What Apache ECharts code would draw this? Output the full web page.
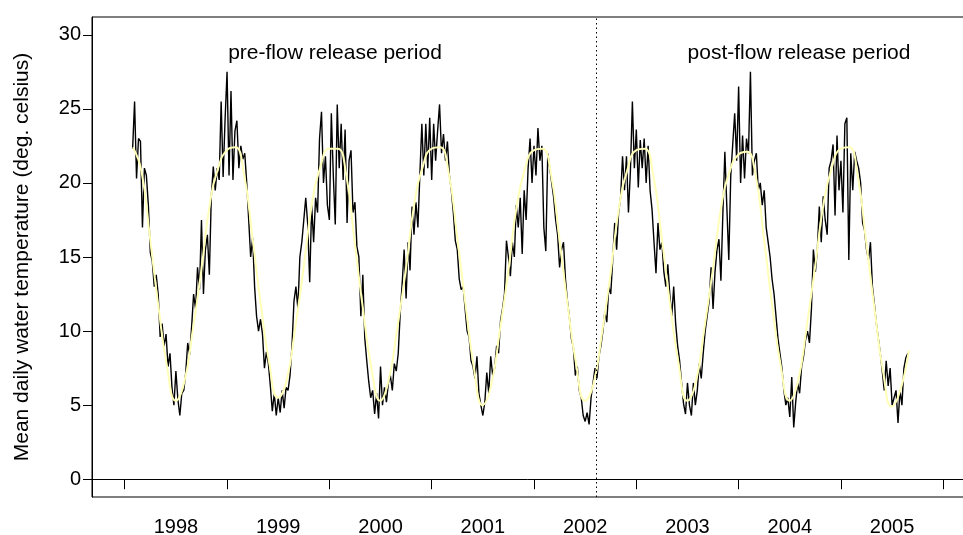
<!DOCTYPE html>
<html>
<head>
<meta charset="utf-8">
<script src="https://cdn.jsdelivr.net/npm/echarts@6/dist/echarts.min.js"></script>
<style>
  html, body { margin: 0; padding: 0; background: #fff; overflow: hidden; }
  #chart { width: 963px; height: 535px; }
</style>
</head>
<body>
<div id="chart"></div>
<script>
// 每周平均水温（黑线），按年份分组，x = 年 + 周/52
const t1998 = [22.3, 25.5, 20.3, 23.0, 22.8, 17.0, 21.0, 20.5, 18.5, 15.3, 14.7, 13.0, 13.8, 12.5, 9.6, 10.5, 9.0, 9.8, 7.6, 8.5, 6.2, 5.0, 7.3, 5.4, 4.3, 5.8, 6.0, 7.2, 9.2, 8.4, 10.3, 12.5, 11.5, 14.3, 12.8, 17.5, 12.5, 15.5, 16.5, 13.8, 19.1, 21.1, 19.5, 21.0, 20.2, 25.5, 20.4, 24.3];
const t1999 = [27.5, 20.5, 26.2, 20.2, 23.5, 24.2, 21.0, 22.5, 21.6, 22.0, 20.0, 17.5, 15.0, 16.3, 13.0, 11.0, 10.0, 10.8, 9.8, 7.5, 8.6, 7.8, 6.3, 4.6, 5.8, 4.3, 5.5, 4.5, 6.0, 4.8, 6.2, 6.0, 7.0, 9.0, 12.0, 13.0, 11.5, 15.0, 16.0, 17.5, 19.0, 17.2, 13.3, 18.5, 16.0, 19.0, 18.0, 23.0, 24.8, 20.0, 21.8, 18.5];
const t2000 = [17.5, 24.7, 20.5, 17.2, 25.3, 21.0, 24.0, 20.2, 23.6, 17.3, 21.5, 22.2, 18.0, 18.7, 15.7, 15.0, 11.0, 13.8, 9.5, 8.0, 6.6, 5.5, 6.0, 4.4, 5.8, 4.1, 7.6, 5.0, 6.2, 5.2, 6.5, 7.0, 6.0, 7.8, 7.3, 8.5, 11.2, 13.2, 15.5, 12.2, 16.0, 14.1, 18.4, 16.5, 18.7, 17.0, 20.6, 24.0, 20.5, 24.0, 21.0, 24.4];
const t2001 = [20.2, 24.0, 21.5, 23.5, 25.3, 22.0, 23.3, 21.5, 22.8, 20.5, 19.5, 18.0, 16.1, 15.5, 13.5, 12.8, 13.0, 11.5, 10.0, 9.6, 8.0, 7.6, 6.8, 8.3, 5.8, 5.0, 4.3, 5.2, 7.2, 5.8, 8.3, 7.0, 7.5, 9.0, 8.5, 10.7, 11.5, 12.5, 16.1, 15.0, 13.7, 16.0, 15.0, 18.5, 17.0, 19.0, 15.2, 19.5, 17.5, 21.0, 23.0, 20.0];
const t2002 = [22.5, 20.5, 23.7, 21.5, 22.5, 17.0, 15.4, 22.0, 21.0, 20.0, 19.0, 17.5, 16.5, 14.3, 15.5, 16.0, 13.5, 12.0, 10.9, 9.5, 8.9, 7.0, 7.6, 6.0, 5.5, 4.3, 3.9, 4.5, 3.7, 5.5, 6.5, 7.5, 6.8, 8.3, 9.0, 10.0, 11.3, 10.6, 13.0, 12.5, 14.8, 17.3, 15.5, 18.0, 19.0, 21.8, 19.5, 21.8, 18.0, 20.8, 25.5, 21.0];
const t2003 = [23.6, 19.7, 22.9, 21.0, 23.0, 20.0, 22.5, 19.5, 18.2, 16.0, 13.9, 17.3, 15.5, 16.0, 14.0, 13.0, 14.5, 12.5, 11.0, 13.0, 10.5, 9.0, 8.0, 6.5, 5.1, 4.4, 6.5, 5.0, 4.3, 6.5, 5.0, 6.0, 7.8, 6.8, 8.5, 10.0, 11.0, 12.0, 14.3, 11.5, 14.0, 15.5, 16.2, 13.4, 18.0, 22.1, 18.4, 14.8, 20.5, 22.6, 24.7, 21.5];
const t2004 = [26.5, 20.0, 23.2, 20.3, 23.0, 22.0, 27.5, 20.5, 21.5, 22.0, 19.5, 20.0, 18.5, 19.5, 17.0, 16.0, 15.0, 13.5, 12.5, 11.0, 9.5, 8.5, 7.5, 6.0, 5.0, 5.5, 4.2, 6.9, 3.5, 5.2, 6.5, 5.8, 7.6, 8.3, 9.4, 10.0, 9.2, 11.5, 15.5, 14.0, 15.5, 18.4, 16.0, 19.1, 17.5, 16.5, 21.0, 21.5, 22.6, 17.8, 23.2, 19.5];
const t2005 = [21.5, 18.0, 24.0, 24.4, 14.8, 22.0, 19.5, 22.1, 21.5, 21.0, 20.0, 17.3, 16.8, 15.5, 14.8, 16.0, 13.0, 11.8, 10.5, 9.5, 8.5, 7.3, 6.0, 8.0, 6.3, 7.5, 5.0, 5.5, 6.0, 3.8, 6.0, 5.0, 7.5, 8.2, 8.5];

// 平滑曲线（黄线），每月一个点，从 1998.08 开始
const s1998 = [22.4, 20.8, 16.3, 11.6, 7.6, 5.3, 6.5, 10.0, 14.0, 18.5, 21.0, 22.2];
const s1999 = [22.4, 20.7, 16.4, 11.8, 7.8, 5.5, 6.6, 10.1, 14.2, 18.6, 21.1, 22.3];
const s2000 = [22.3, 20.6, 16.0, 11.4, 7.4, 5.3, 6.7, 10.2, 14.1, 18.6, 21.1, 22.3];
const s2001 = [22.4, 20.8, 16.5, 11.8, 7.5, 5.0, 6.3, 9.9, 13.9, 18.4, 21.0, 22.2];
const s2002 = [22.3, 20.7, 16.3, 11.7, 7.7, 5.3, 6.4, 9.8, 13.8, 18.3, 20.9, 22.2];
const s2003 = [22.3, 20.6, 16.4, 11.8, 7.8, 5.3, 6.5, 10.1, 14.1, 18.4, 20.8, 21.9];
const s2004 = [22.1, 20.6, 16.3, 11.6, 7.6, 5.3, 6.6, 10.2, 14.3, 18.6, 21.1, 22.3];
const s2005 = [22.4, 20.5, 16.0, 11.4, 7.2, 4.9, 6.0, 8.7];

const yearTicks = [1998, 1999, 2000, 2001, 2002, 2003, 2004, 2005, 2006];
const yearLabels = [1998.5, 1999.5, 2000.5, 2001.5, 2002.5, 2003.5, 2004.5, 2005.5];
const tempTicks = [0, 5, 10, 15, 20, 25, 30];
const flowRelease = 2002.61;

const font = '"Liberation Sans", Arial, Helvetica, sans-serif';

// 拼接周数据
function buildWeekly() {
    const groups = [
        [1998, 4, t1998], [1999, 0, t1999], [2000, 0, t2000], [2001, 0, t2001],
        [2002, 0, t2002], [2003, 0, t2003], [2004, 0, t2004], [2005, 0, t2005]
    ];
    const out = [];
    groups.forEach(function(g) {
        g[2].forEach(function(v, j) {
            out.push([g[0] + (g[1] + j) / 52, v]);
        });
    });
    return out;
}

function buildSmooth() {
    const all = [].concat(s1998, s1999, s2000, s2001, s2002, s2003, s2004, s2005);
    return all.map(function(v, k) { return [1998.08 + k / 12, v]; });
}

const chart = echarts.init(document.getElementById('chart'));

const option = {
    animation: false,
    backgroundColor: '#fff',
    grid: {
        left: 92,
        width: 884,
        top: 17,
        bottom: 38,
        outerBoundsMode: 'none',
        show: true,
        borderColor: '#000',
        borderWidth: 1
    },
    xAxis: {
        type: 'value',
        min: 1997.68,
        max: 2006.32,
        splitLine: { show: false },
        axisLine: { show: true, lineStyle: { color: '#000', width: 1 } },
        axisTick: {
            show: true,
            length: 10,
            customValues: yearTicks,
            lineStyle: { color: '#000', width: 1 }
        },
        axisLabel: {
            customValues: yearLabels,
            margin: 20,
            color: '#000',
            fontSize: 20,
            fontFamily: font,
            formatter: function(v) { return String(Math.floor(v)); }
        }
    },
    yAxis: {
        type: 'value',
        min: -1.2,
        max: 31.2,
        name: 'Mean daily water temperature (deg. celsius)',
        nameLocation: 'middle',
        nameGap: 59,
        nameTextStyle: { color: '#000', fontSize: 21, fontFamily: font },
        splitLine: { show: false },
        axisLine: { show: true, lineStyle: { color: '#000', width: 1 } },
        axisTick: {
            show: true,
            length: 9,
            customValues: tempTicks,
            lineStyle: { color: '#000', width: 1 }
        },
        axisLabel: {
            customValues: tempTicks,
            margin: 11,
            color: '#000',
            fontSize: 20,
            fontFamily: font
        }
    },
    graphic: [
        {
            type: 'text',
            x: 335,
            y: 53,
            style: {
                text: 'pre-flow release period',
                textAlign: 'center',
                textVerticalAlign: 'middle',
                font: '21px ' + font,
                fill: '#000'
            }
        },
        {
            type: 'text',
            x: 799,
            y: 53,
            style: {
                text: 'post-flow release period',
                textAlign: 'center',
                textVerticalAlign: 'middle',
                font: '21px ' + font,
                fill: '#000'
            }
        }
    ],
    series: [
        {
            name: 'daily',
            type: 'line',
            showSymbol: false,
            data: buildWeekly(),
            lineStyle: { color: '#000', width: 1.4 },
            z: 2,
            markLine: {
                silent: true,
                symbol: 'none',
                label: { show: false },
                lineStyle: { color: '#000', width: 1, type: [1.5, 3] },
                data: [{ xAxis: flowRelease }]
            }
        },
        {
            name: 'smooth',
            type: 'line',
            showSymbol: false,
            smooth: 0.5,
            data: buildSmooth(),
            lineStyle: { color: '#ffffb8', width: 2 },
            z: 3
        }
    ]
};

chart.setOption(option);

window.addEventListener('resize', function() {
    chart.resize();
});
</script>
</body>
</html>
